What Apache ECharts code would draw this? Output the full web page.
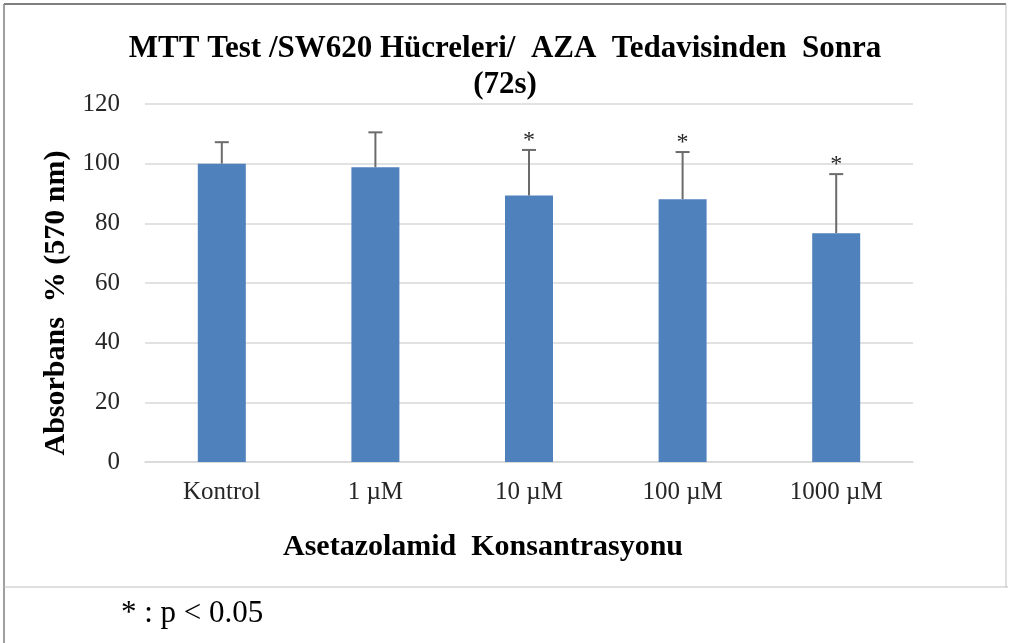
<!DOCTYPE html>
<html>
<head>
<meta charset="utf-8">
<script src="https://cdn.jsdelivr.net/npm/echarts@6/dist/echarts.min.js"></script>
<style>
  html, body { margin: 0; padding: 0; background: #fff; }
</style>
</head>
<body>
<div id="main" style="width:1010px;height:643px;"></div>
<script>
// concentrations on the x axis
var doses = ['Kontrol', '1 \u00b5M', '10 \u00b5M', '100 \u00b5M', '1000 \u00b5M'];
// mean absorbance % and upper error (SD)
var means = [100, 98.8, 89.3, 88.1, 76.7];
var errors = [7.2, 11.7, 15.3, 15.8, 19.8];
// significant vs control (p < 0.05)
var signif = [false, false, true, true, true];

var serif = '"Liberation Serif", "Times New Roman", serif';

var errData = [];
for (var i = 0; i < doses.length; i++) {
  errData.push([i, means[i], errors[i], signif[i] ? 1 : 0]);
}

var chartDom = document.getElementById('main');
var myChart = echarts.init(chartDom);
var option;

option = {
  animation: false,
  title: {
    text: 'MTT Test /SW620 H\u00fccreleri/  AZA  Tedavisinden  Sonra\n(72s)',
    left: 'center',
    top: 26,
    textStyle: {
      fontFamily: serif,
      fontWeight: 'bold',
      fontSize: 31,
      lineHeight: 36,
      color: '#000'
    }
  },
  grid: {
    left: 145,
    right: 97,
    top: 104,
    bottom: 181
  },
  xAxis: {
    type: 'category',
    data: doses,
    name: 'Asetazolamid  Konsantrasyonu',
    nameLocation: 'middle',
    nameGap: 70,
    nameTextStyle: {
      fontFamily: serif,
      fontWeight: 'bold',
      fontSize: 30,
      color: '#000',
      padding: [0, 92, 0, 0]
    },
    axisLine: { lineStyle: { color: '#d9d9d9', width: 1.5 } },
    axisTick: { show: false },
    axisLabel: {
      margin: 18,
      fontFamily: serif,
      fontSize: 25,
      color: '#262626'
    }
  },
  yAxis: {
    type: 'value',
    min: 0,
    max: 120,
    interval: 20,
    name: 'Absorbans  % (570 nm)',
    nameLocation: 'middle',
    nameRotate: 90,
    nameGap: 73,
    nameTextStyle: {
      fontFamily: serif,
      fontWeight: 'bold',
      fontSize: 30,
      color: '#000',
      padding: [0, 40, 0, 0]
    },
    axisLine: { show: false },
    axisTick: { show: false },
    splitLine: { lineStyle: { color: '#d9d9d9', width: 1.5 } },
    axisLabel: {
      margin: 25,
      fontFamily: serif,
      fontSize: 25,
      color: '#262626'
    }
  },
  graphic: [
    { type: 'line', shape: { x1: 4, y1: 4, x2: 1006, y2: 4 }, style: { stroke: '#555', lineWidth: 1.5 } },
    { type: 'line', shape: { x1: 4, y1: 4, x2: 4, y2: 643 }, style: { stroke: '#7f7f7f', lineWidth: 1.5 } },
    { type: 'line', shape: { x1: 1006, y1: 4, x2: 1006, y2: 587 }, style: { stroke: '#bfbfbf', lineWidth: 1 } },
    { type: 'line', shape: { x1: 4, y1: 587, x2: 1008, y2: 587 }, style: { stroke: '#bfbfbf', lineWidth: 1 } },
    {
      type: 'text',
      left: 121,
      top: 598,
      style: {
        text: '* : p < 0.05',
        fontFamily: serif,
        fontSize: 31,
        fill: '#000'
      }
    }
  ],
  series: [
    {
      type: 'bar',
      data: means,
      barWidth: 48,
      itemStyle: { color: '#4f81bd' }
    },
    {
      type: 'custom',
      data: errData,
      z: 5,
      renderItem: function (params, api) {
        var base = api.coord([api.value(0), api.value(1)]);
        var top = api.coord([api.value(0), api.value(1) + api.value(2)]);
        var children = [
          { type: 'line', shape: { x1: base[0], y1: base[1], x2: top[0], y2: top[1] },
            style: { stroke: '#6b6b6b', lineWidth: 2 } },
          { type: 'line', shape: { x1: top[0] - 7, y1: top[1], x2: top[0] + 7, y2: top[1] },
            style: { stroke: '#6b6b6b', lineWidth: 2 } }
        ];
        if (api.value(3)) {
          children.push({
            type: 'text',
            x: top[0],
            y: top[1] - 9,
            style: {
              text: '*',
              fontFamily: serif,
              fontSize: 24,
              fill: '#262626',
              align: 'center',
              verticalAlign: 'middle'
            }
          });
        }
        return { type: 'group', children: children };
      }
    }
  ]
};

option && myChart.setOption(option);
</script>
</body>
</html>
